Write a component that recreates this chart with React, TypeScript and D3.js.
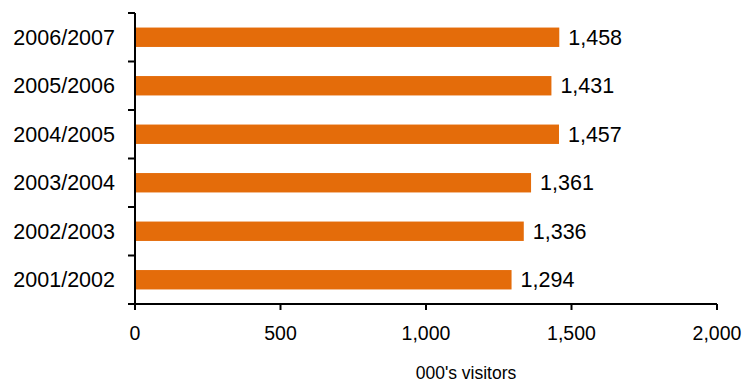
import React from "react";
import * as d3 from "d3";

const categories = ["2006/2007", "2005/2006", "2004/2005", "2003/2004", "2002/2003", "2001/2002"];
const values = [1458, 1431, 1457, 1361, 1336, 1294];
const xTicks = [0, 500, 1000, 1500, 2000];
const axisTitle = "000's visitors";

const W = 744;
const H = 385;
const left = 135;
const right = 717;
const top = 13;
const bottom = 304;
const barColor = "#E46C0A";
const font = "'Liberation Sans', Arial, sans-serif";

export default function App() {
  const x = d3.scaleLinear().domain([0, 2000]).range([left, right]);
  const y = d3.scaleBand<string>().domain(categories).range([top, bottom]).paddingInner(0.6).paddingOuter(0.3);
  const step = (bottom - top) / categories.length;
  const bounds = d3.range(categories.length + 1).map((i) => top + i * step);
  const fmt = d3.format(",");

  return (
    <svg width={W} height={H} style={{ position: "absolute", left: 0, top: 0 }} fontFamily={font}>
      <rect width={W} height={H} fill="#fff" />
      {categories.map((c, i) => (
        <g key={c}>
          <rect x={x(0)} y={y(c)!} width={x(values[i]) - x(0)} height={y.bandwidth()} fill={barColor} />
          <text x={x(values[i]) + 9} y={y(c)! + y.bandwidth() / 2} dy="0.36em" fontSize={21.5} fill="#000">
            {fmt(values[i])}
          </text>
          <text x={115} y={top + step * (i + 0.5)} dy="0.36em" fontSize={21.5} textAnchor="end" fill="#000">
            {c}
          </text>
        </g>
      ))}
      {/* y axis */}
      <line x1={left} x2={left} y1={top} y2={bottom} stroke="#000" strokeWidth={2} />
      {bounds.map((b, i) => (
        <line key={i} x1={left - 7} x2={left} y1={b} y2={b} stroke="#000" strokeWidth={2} />
      ))}
      {/* x axis */}
      <line x1={left} x2={right} y1={bottom} y2={bottom} stroke="#000" strokeWidth={2} />
      {xTicks.map((t) => (
        <g key={t}>
          <line x1={x(t)} x2={x(t)} y1={bottom} y2={bottom + 6} stroke="#000" strokeWidth={2} />
          <text x={x(t)} y={340} textAnchor="middle" fontSize={19.5} fill="#000">
            {fmt(t)}
          </text>
        </g>
      ))}
      <text x={466} y={379} textAnchor="middle" fontSize={17.5} fill="#000">
        {axisTitle}
      </text>
    </svg>
  );
}
